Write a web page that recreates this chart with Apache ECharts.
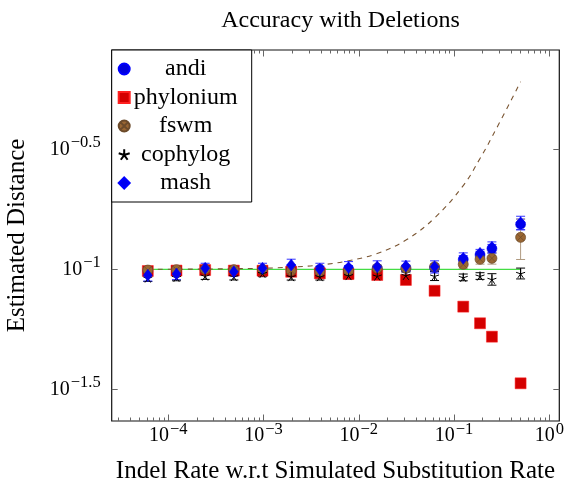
<!DOCTYPE html>
<html><head><meta charset="utf-8">
<script src="https://cdn.jsdelivr.net/npm/echarts@6/dist/echarts.min.js"></script>
<style>html,body{margin:0;padding:0;background:#fff}#c{width:566px;height:483px}</style>
</head><body><div id="c"></div>
<script>
// ---- data ----
const indelRates = [0.00006104, 0.00012207, 0.00024414, 0.00048828, 0.00097656, 0.0019531, 0.0039063, 0.0078125, 0.015625, 0.03125, 0.0625, 0.125, 0.1875, 0.25, 0.5];
const andiVals   = [0.0975, 0.0980, 0.1005, 0.0990, 0.1000, 0.1015, 0.1000, 0.1005, 0.1010, 0.1010, 0.1015, 0.1100, 0.1150, 0.1220, 0.1540];
const andiErr    = [0.003, 0.003, 0.003, 0.003, 0.003, 0.003, 0.003, 0.003, 0.003, 0.003, 0.003, 0.004, 0.004, 0.005, 0.008];
const phylVals   = [0.0984, 0.0988, 0.0993, 0.0988, 0.0987, 0.0977, 0.0962, 0.0956, 0.0947, 0.0903, 0.0814, 0.0699, 0.0596, 0.0524, 0.0335];
const phylErr    = [0.002, 0.002, 0.002, 0.002, 0.002, 0.002, 0.002, 0.002, 0.002, 0.002, 0.002, 0.002, 0.002, 0.002, 0.001];
const fswmVals   = [0.0993, 0.0997, 0.1000, 0.0997, 0.0997, 0.0987, 0.0977, 0.0984, 0.1010, 0.1010, 0.1025, 0.1049, 0.1101, 0.1111, 0.1359];
const fswmErr    = [0.003, 0.003, 0.003, 0.003, 0.003, 0.003, 0.003, 0.003, 0.003, 0.003, 0.003, 0.004, 0.005, 0.006, 0.026];
const cophVals   = [0.0920, 0.0926, 0.0938, 0.0933, 0.0962, 0.0932, 0.0932, 0.0942, 0.0938, 0.0944, 0.0938, 0.0926, 0.0938, 0.0909, 0.0962];
const cophErr    = [0.003, 0.003, 0.003, 0.003, 0.003, 0.003, 0.003, 0.003, 0.003, 0.003, 0.004, 0.003, 0.003, 0.005, 0.005];
const mashVals   = [0.0944, 0.0956, 0.1010, 0.0977, 0.1010, 0.1042, 0.1000, 0.1017, 0.1025, 0.1032, 0.1025, 0.1111, 0.1166, 0.1235, 0.1564];
const mashErr    = [0.005, 0.005, 0.005, 0.004, 0.005, 0.006, 0.006, 0.006, 0.006, 0.005, 0.006, 0.006, 0.0045, 0.0066, 0.010];
const trueVals   = [0.1, 0.1, 0.1, 0.1, 0.1, 0.1, 0.1, 0.1, 0.1, 0.1, 0.1, 0.1, 0.1, 0.1, 0.1];
const expectVals = [0.1000, 0.1001, 0.1003, 0.1006, 0.1010, 0.1022, 0.1042, 0.1086, 0.1164, 0.1324, 0.1637, 0.2234, 0.2897, 0.3557, 0.6047];

const xTickValues = [0.0001, 0.001, 0.01, 0.1, 1];
const xTickExps   = ['\u22124', '\u22123', '\u22122', '\u22121', '0'];
const yTickValues = [0.0316228, 0.1, 0.316228];
const yTickExps   = ['\u22121.5', '\u22121', '\u22120.5'];

const X_MIN = 2.55e-5, X_MAX = 1.274;
const Y_MIN = 0.02333, Y_MAX = 0.8204;

const xMinor = [];
for (let d = -5; d <= 0; d++) for (let k = 2; k <= 9; k++) {
  const v = k * Math.pow(10, d);
  if (v > X_MIN && v < X_MAX) xMinor.push(v);
}

const FONT = 'Liberation Serif';
const rich = {
  b: {fontFamily: FONT, fontSize: 20, lineHeight: 20, verticalAlign: 'bottom', color: '#000'},
  e: {fontFamily: FONT, fontSize: 16.5, lineHeight: 17, verticalAlign: 'bottom', padding: [0, 0, 8, 1], color: '#000'}
};
function fmt(vals, exps) {
  return function (v) {
    let best = 0, bd = 1e9;
    vals.forEach((t, i) => { const d = Math.abs(Math.log10(t) - Math.log10(v)); if (d < bd) { bd = d; best = i; } });
    return '{b|10}{e|' + exps[best] + '}';
  };
}

function xAx(pos, values, len, showLabel) {
  return {
    type: 'log', logBase: 10, min: X_MIN, max: X_MAX, position: pos,
    axisLine: {show: false}, splitLine: {show: false},
    axisTick: {show: true, inside: true, length: len, customValues: values, lineStyle: {color: '#666', width: 1}},
    axisLabel: {show: showLabel, customValues: values, margin: 5, formatter: fmt(xTickValues, xTickExps), rich: rich},
    name: showLabel ? 'Indel Rate w.r.t Simulated Substitution Rate' : '',
    nameLocation: 'middle', nameGap: 38,
    nameTextStyle: {fontFamily: FONT, fontSize: 25, color: '#000'}
  };
}
function yAx(pos, showLabel) {
  return {
    type: 'log', logBase: 10, min: Y_MIN, max: Y_MAX, position: pos,
    axisLine: {show: false}, splitLine: {show: false},
    axisTick: {show: true, inside: true, length: 6, customValues: yTickValues, lineStyle: {color: '#666', width: 1}},
    axisLabel: {show: showLabel, customValues: yTickValues, margin: 11,
                formatter: fmt(yTickValues, yTickExps), rich: rich},
    name: showLabel ? 'Estimated Distance' : '',
    nameLocation: 'middle', nameGap: 82,
    nameTextStyle: {fontFamily: FONT, fontSize: 25, color: '#000'}
  };
}

function errSeries(name, vals, errs, color) {
  return {
    type: 'custom', name: name + '-err', xAxisIndex: 0, yAxisIndex: 0, silent: true,
    data: indelRates.map((x, i) => [x, vals[i] - errs[i], vals[i] + errs[i]]),
    encode: {x: 0, y: [1, 2]},
    renderItem: function (params, api) {
      const x = api.value(0);
      const p1 = api.coord([x, api.value(1)]);
      const p2 = api.coord([x, api.value(2)]);
      const st = {stroke: color, lineWidth: 1};
      return {type: 'group', children: [
        {type: 'line', shape: {x1: p1[0], y1: p1[1], x2: p2[0], y2: p2[1]}, style: st},
        {type: 'line', shape: {x1: p1[0] - 4.5, y1: p1[1], x2: p1[0] + 4.5, y2: p1[1]}, style: st},
        {type: 'line', shape: {x1: p2[0] - 4.5, y1: p2[1], x2: p2[0] + 4.5, y2: p2[1]}, style: st}
      ]};
    }
  };
}
function pts(vals) { return indelRates.map((x, i) => [x, vals[i]]); }

const otimes = 'path://M0,5A5,5 0 1,1 10,5A5,5 0 1,1 0,5Z M1.46,1.46L8.54,8.54M8.54,1.46L1.46,8.54';
const star = 'path://M5,5L5,0M5,5L0.245,3.455M5,5L2.061,9.045M5,5L7.939,9.045M5,5L9.755,3.455';

const option = {
  animation: false,
  backgroundColor: '#fff',
  title: {text: 'Accuracy with Deletions', left: 335.5, textAlign: 'center', top: 4,
          textStyle: {fontFamily: FONT, fontSize: 24, fontWeight: 'normal', color: '#000'}},
  grid: {left: 111.7, top: 50, right: 6.7, bottom: 62, show: true, borderColor: '#111', borderWidth: 1.2,
         backgroundColor: 'transparent', containLabel: false, outerBoundsMode: 'none'},
  xAxis: [xAx('bottom', xTickValues, 6.5, true), xAx('bottom', xMinor, 3.5, false),
          xAx('top', xTickValues, 6.5, false), xAx('top', xMinor, 3.5, false)],
  yAxis: [yAx('left', true), yAx('right', false)],
  legend: {
    left: 111.7, top: 50, orient: 'vertical', itemWidth: 11, itemHeight: 11, itemGap: 4.5,
    borderColor: '#000', borderWidth: 1, borderRadius: 0, backgroundColor: '#fff',
    padding: [7, 14, 7, 6],
    data: ['andi', 'phylonium', 'fswm', 'cophylog', 'mash'],
    formatter: function (n) { return '{c|' + n + '}'; },
    textStyle: {fontFamily: FONT, fontSize: 24, color: '#000',
                rich: {c: {fontFamily: FONT, fontSize: 24, lineHeight: 24, width: 102, align: 'center', color: '#000'}}}
  },
  series: [
    {type: 'line', name: 'true', data: pts(trueVals), symbol: 'none', lineStyle: {color: '#44dd44', width: 1.2}, z: 1},
    {type: 'line', name: 'expected', data: pts(expectVals), symbol: 'none', smooth: 0.4,
     lineStyle: {color: '#7a5532', width: 1.1, type: [5, 5]}, z: 1},
    errSeries('andi', andiVals, andiErr, '#3333ff'),
    {type: 'scatter', name: 'andi', data: pts(andiVals), symbol: 'circle', symbolSize: 10,
     itemStyle: {color: '#0000dd', borderColor: '#0000ff', borderWidth: 0.5, opacity: 1}},
    errSeries('phylonium', phylVals, phylErr, '#ff3333'),
    {type: 'scatter', name: 'phylonium', data: pts(phylVals), symbol: 'rect', symbolSize: 11,
     itemStyle: {color: '#d40000', borderColor: '#ff2020', borderWidth: 0.5, opacity: 1}},
    errSeries('fswm', fswmVals, fswmErr, '#b09a80'),
    {type: 'scatter', name: 'fswm', data: pts(fswmVals), symbol: otimes, symbolSize: 10,
     itemStyle: {color: '#996633', borderColor: '#6b4a2a', borderWidth: 0.7, opacity: 1}},
    errSeries('cophylog', cophVals, cophErr, '#000'),
    {type: 'scatter', name: 'cophylog', data: pts(cophVals), symbol: star, symbolSize: 9,
     itemStyle: {color: '#000', borderColor: '#000', borderWidth: 1, opacity: 1}},
    errSeries('mash', mashVals, mashErr, '#3333ff'),
    {type: 'scatter', name: 'mash', data: pts(mashVals), symbol: 'diamond', symbolSize: [9, 12],
     itemStyle: {color: '#0000ee', borderColor: '#0000ff', borderWidth: 0.5, opacity: 1}}
  ]
};
const chart = echarts.init(document.getElementById('c'), null, {renderer: 'canvas'});
chart.setOption(option);
</script>
</body></html>
